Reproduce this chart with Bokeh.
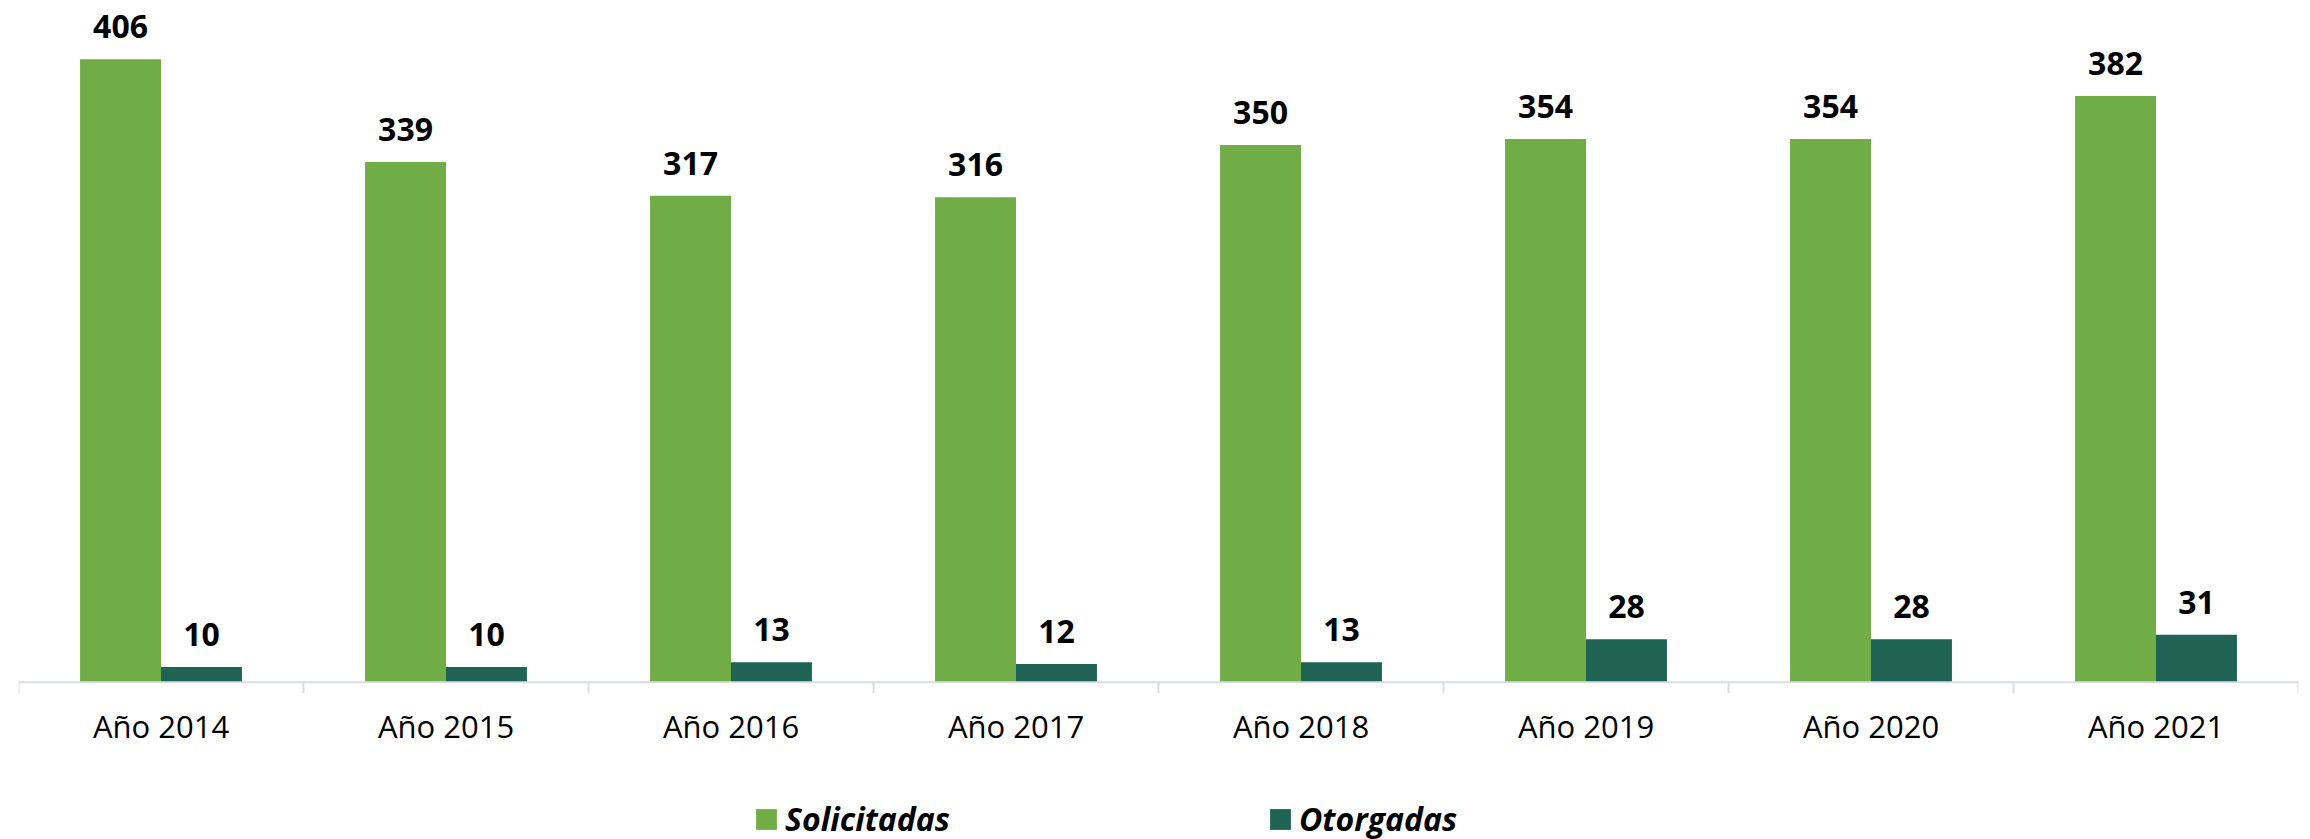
from bokeh.plotting import figure
from bokeh.models import (ColumnDataSource, Range1d, LabelSet, Legend, LegendItem, Span)
from bokeh.core.properties import value
from bokeh.transform import dodge
from bokeh.embed import file_html
from bokeh.resources import INLINE

years = ["Año 2014", "Año 2015", "Año 2016", "Año 2017", "Año 2018", "Año 2019", "Año 2020", "Año 2021"]
solicitadas = [406, 339, 317, 316, 350, 354, 354, 382]
otorgadas = [10, 10, 13, 12, 13, 28, 28, 31]
series_names = ["Solicitadas", "Otorgadas"]
colors = ["#70AD47", "#1F6355"]

n = len(years)
centers = [i + 0.5 for i in range(n)]
bounds = list(range(n + 1))

FONT = "Open Sans"
AXIS_COLOR = "#D9DEE6"
Y_TOP = 439
Y_BOTTOM = -102.4
PX_PER_UNIT = 831 / (Y_TOP - Y_BOTTOM)
tick_len = 11 / PX_PER_UNIT

src = ColumnDataSource(dict(
    pos=centers, year=years, sol=solicitadas, oto=otorgadas,
    sol_txt=[str(v) for v in solicitadas], oto_txt=[str(v) for v in otorgadas],
))
sep_src = ColumnDataSource(dict(x=bounds, y0=[0] * len(bounds), y1=[-tick_len] * len(bounds)))

p = figure(x_range=Range1d(0, n), y_range=Range1d(Y_BOTTOM, Y_TOP),
           width=2310, height=839, output_backend="svg", toolbar_location=None,
           x_axis_location=None, y_axis_location=None,
           min_border_left=18, min_border_right=12, min_border_top=8, min_border_bottom=0)
p.outline_line_color = None
p.xgrid.visible = False
p.ygrid.visible = False
p.background_fill_color = "white"
p.border_fill_color = "white"

w = 0.284
r1 = p.vbar(x=dodge("pos", -w / 2), top="sol", width=w, source=src,
            fill_color=colors[0], line_color=None)
r2 = p.vbar(x=dodge("pos", w / 2), top="oto", width=w, source=src,
            fill_color=colors[1], line_color=None)

# category axis: baseline, separators and labels
p.add_layout(Span(location=0, dimension="width", line_color=AXIS_COLOR, line_width=2))
p.segment(x0="x", y0="y0", x1="x", y1="y1", source=sep_src, line_color=AXIS_COLOR, line_width=2)
p.add_layout(LabelSet(x="pos", y=0, text="year", source=src, y_offset=-44,
                      text_align="center", text_baseline="middle",
                      text_font=value(FONT), text_font_size=value("31px"), text_color="black"))

for ycol, tcol, off in [("sol", "sol_txt", -w / 2), ("oto", "oto_txt", w / 2)]:
    p.add_layout(LabelSet(x=dodge("pos", off), y=ycol, text=tcol, source=src,
                          y_offset=21, text_align="center", text_baseline="alphabetic",
                          text_font=value(FONT), text_font_size=value("32px"),
                          text_font_style="bold", text_color="black"))

legend = Legend(items=[LegendItem(label=series_names[0], renderers=[r1]),
                       LegendItem(label=series_names[1], renderers=[r2])],
                orientation="horizontal", location=(735, -1),
                glyph_width=26, glyph_height=26, label_standoff=6, spacing=224, label_width=258,
                padding=0, margin=0, border_line_color=None, background_fill_alpha=0,
                label_text_font=FONT, label_text_font_size="32px",
                label_text_font_style="bold italic", label_text_color="black", label_height=20)
p.add_layout(legend, "center")

open("out.html", "w").write(file_html(p, INLINE))
